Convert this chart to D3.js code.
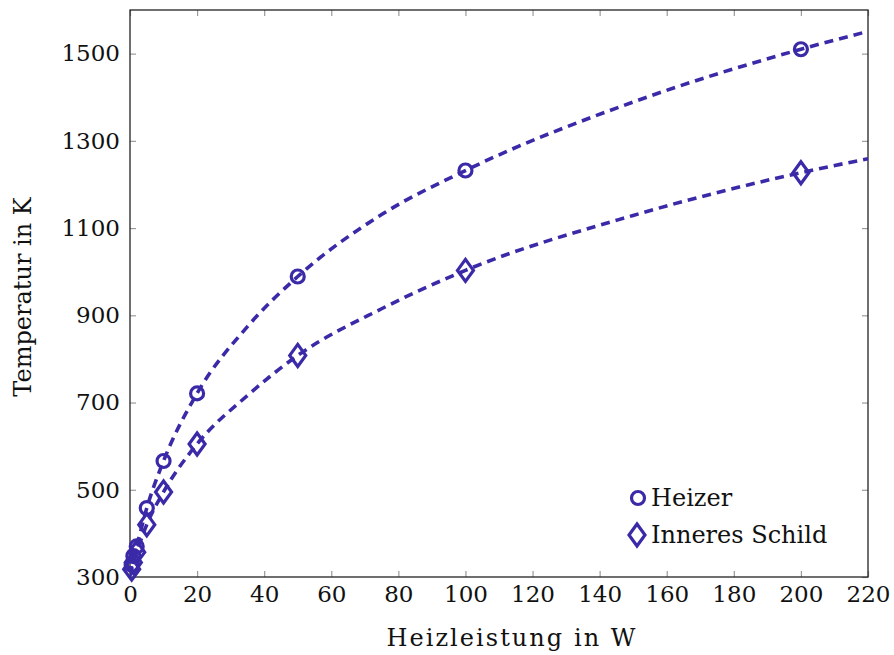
<!DOCTYPE html>
<html>
<head>
<meta charset="utf-8">
<script src="https://cdn.jsdelivr.net/npm/d3@7"></script>
<style>
  html, body { margin: 0; padding: 0; background: #fff; }
  svg { display: block; }
  text { font-family: "DejaVu Serif", serif; fill: #111; }
</style>
</head>
<body>
<svg id="chart" width="894" height="655"></svg>
<script>
// Measured heating power (W) and temperatures (K)
const heizerPower = [0.5, 1, 2, 5, 10, 20, 50, 100, 200];
const heizerTemp  = [328, 348, 370, 458, 566, 721, 989, 1232, 1510];
const schildPower = [0.5, 1, 2, 5, 10, 20, 50, 100, 200];
const schildTemp  = [318, 333, 357, 420, 495, 605, 808, 1003, 1227];

// Fitted trend curves (dashed)
const heizerFitPower = [0, 0.5, 1, 2, 5, 10, 20, 35, 50, 75, 100, 150, 200, 220];
const heizerFitTemp  = [305, 328, 348, 372, 458, 566, 721, 874, 989, 1131, 1232, 1389, 1510, 1551];
const schildFitPower = [0, 0.5, 1, 2, 5, 10, 20, 35, 50, 75, 100, 150, 200, 220];
const schildFitTemp  = [303, 318, 333, 357, 420, 495, 605, 716, 808, 915, 1003, 1129, 1227, 1259];

const xTicks = [0, 20, 40, 60, 80, 100, 120, 140, 160, 180, 200, 220];
const yTicks = [300, 500, 700, 900, 1100, 1300, 1500];

const xTitle = "Heizleistung in W";
const yTitle = "Temperatur in K";
const seriesNames = ["Heizer", "Inneres Schild"];

const color = "#3b2aa8";
const plotL = 130, plotR = 868, plotT = 10, plotB = 577;

const svg = d3.select("#chart");
const x = d3.scaleLinear().domain([0, 220]).range([plotL, plotR]);
const y = d3.scaleLinear().domain([300, 1600]).range([plotB, plotT]);

svg.append("defs").append("clipPath").attr("id", "plotclip")
  .append("rect").attr("x", plotL).attr("y", plotT)
  .attr("width", plotR - plotL).attr("height", plotB - plotT);

// Ticks on all four sides, pointing inward
const tickLen = 6;
const fmt = d3.format("d");
const tickStyle = g => {
  g.select(".domain").remove();
  g.selectAll(".tick line").attr("stroke", "#9a9a9a").attr("stroke-width", 1.2);
};
const labelStyle = g => g.selectAll(".tick text").attr("font-size", 23).attr("fill", "#111")
  .attr("font-family", "DejaVu Serif, serif");

svg.append("g").attr("transform", `translate(0,${plotB})`)
  .call(d3.axisBottom(x).tickValues(xTicks).tickSize(-tickLen).tickPadding(9).tickFormat(fmt))
  .call(tickStyle).call(labelStyle);
svg.append("g").attr("transform", `translate(0,${plotT})`)
  .call(d3.axisTop(x).tickValues(xTicks).tickSize(-tickLen).tickFormat(""))
  .call(tickStyle);
svg.append("g").attr("transform", `translate(${plotL},0)`)
  .call(d3.axisLeft(y).tickValues(yTicks).tickSize(-tickLen).tickPadding(10).tickFormat(fmt))
  .call(tickStyle).call(labelStyle);
svg.append("g").attr("transform", `translate(${plotR},0)`)
  .call(d3.axisRight(y).tickValues(yTicks).tickSize(-tickLen).tickFormat(""))
  .call(tickStyle);

// Frame
svg.append("rect").attr("x", plotL).attr("y", plotT)
  .attr("width", plotR - plotL).attr("height", plotB - plotT)
  .attr("fill", "none").attr("stroke", "#222").attr("stroke-width", 1.3);

// Axis titles
svg.append("text").attr("x", 511).attr("y", 646)
  .attr("text-anchor", "middle").attr("font-size", 24).attr("fill", "#333")
  .attr("textLength", 249).attr("lengthAdjust", "spacing").text(xTitle);
svg.append("text").attr("transform", `translate(31,297) rotate(-90)`)
  .attr("text-anchor", "middle").attr("font-size", 24).attr("fill", "#333").text(yTitle);

// Dashed fit curves
const line = d3.line().x(d => x(d[0])).y(d => y(d[1])).curve(d3.curveMonotoneX);
const plot = svg.append("g").attr("clip-path", "url(#plotclip)");
[[heizerFitPower, heizerFitTemp], [schildFitPower, schildFitTemp]].forEach(([p, t]) => {
  plot.append("path").datum(d3.zip(p, t)).attr("d", line)
    .attr("fill", "none").attr("stroke", color).attr("stroke-width", 3.6)
    .attr("stroke-dasharray", "9,6");
});

// Markers
const diamond = (cx, cy) => `M${cx},${cy - 11}L${cx + 8},${cy}L${cx},${cy + 11}L${cx - 8},${cy}Z`;
const markers = svg.append("g");
markers.selectAll("circle.heizer").data(d3.zip(heizerPower, heizerTemp)).join("circle")
  .attr("class", "heizer").attr("cx", d => x(d[0])).attr("cy", d => y(d[1])).attr("r", 6.5)
  .attr("fill", "none").attr("stroke", color).attr("stroke-width", 3.2);
markers.selectAll("path.schild").data(d3.zip(schildPower, schildTemp)).join("path")
  .attr("class", "schild").attr("d", d => diamond(x(d[0]), y(d[1])))
  .attr("fill", "none").attr("stroke", color).attr("stroke-width", 3.2).attr("stroke-linejoin", "miter");

// Legend
const legend = svg.append("g");
legend.append("circle").attr("cx", 638).attr("cy", 498).attr("r", 6.5)
  .attr("fill", "none").attr("stroke", color).attr("stroke-width", 3.2);
legend.append("text").attr("x", 651).attr("y", 506).attr("font-size", 24).text(seriesNames[0]);
legend.append("path").attr("d", diamond(637, 535))
  .attr("fill", "none").attr("stroke", color).attr("stroke-width", 3.2);
legend.append("text").attr("x", 651).attr("y", 543).attr("font-size", 24).text(seriesNames[1]);
</script>
</body>
</html>
